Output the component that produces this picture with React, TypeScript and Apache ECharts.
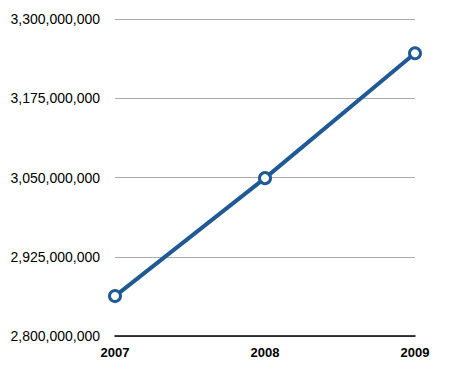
import React, { useEffect, useRef } from "react";
import * as echarts from "echarts";

const categories = ["2007", "2008", "2009"];
const values = [2863000000, 3049000000, 3246000000];
const yTicks = { min: 2800000000, max: 3300000000, interval: 125000000 };

export default function App() {
  const ref = useRef<HTMLDivElement>(null);
  useEffect(() => {
    const chart = echarts.init(ref.current!, null, { renderer: "svg" });
    chart.setOption({
      animation: false,
      backgroundColor: "#fff",
      grid: { left: 115, right: 44, top: 19, bottom: 38 },
      xAxis: {
        type: "category",
        data: categories,
        boundaryGap: false,
        axisLine: { lineStyle: { color: "#000", width: 1.5 } },
        axisTick: { show: false },
        axisLabel: {
          color: "#000",
          fontWeight: "bold",
          fontSize: 13,
          fontFamily: "Liberation Sans, Arial, sans-serif",
          margin: 10,
        },
      },
      yAxis: {
        type: "value",
        min: yTicks.min,
        max: yTicks.max,
        interval: yTicks.interval,
        axisLine: { show: false },
        axisTick: { show: false },
        splitLine: { lineStyle: { color: "#aaa", width: 1 } },
        axisLabel: {
          color: "#000",
          fontSize: 14,
          fontFamily: "Liberation Sans, Arial, sans-serif",
          margin: 15,
          formatter: (v: number) => v.toLocaleString("en-US"),
        },
      },
      series: [
        {
          type: "line",
          data: values,
          lineStyle: { color: "#1f5a96", width: 4 },
          symbol: "circle",
          symbolSize: 11,
          itemStyle: { color: "#fff", borderColor: "#1f5a96", borderWidth: 3 },
        },
      ],
    });
    return () => chart.dispose();
  }, []);
  return <div ref={ref} style={{ width: 459, height: 374, position: "absolute", left: 0, top: 0 }} />;
}
